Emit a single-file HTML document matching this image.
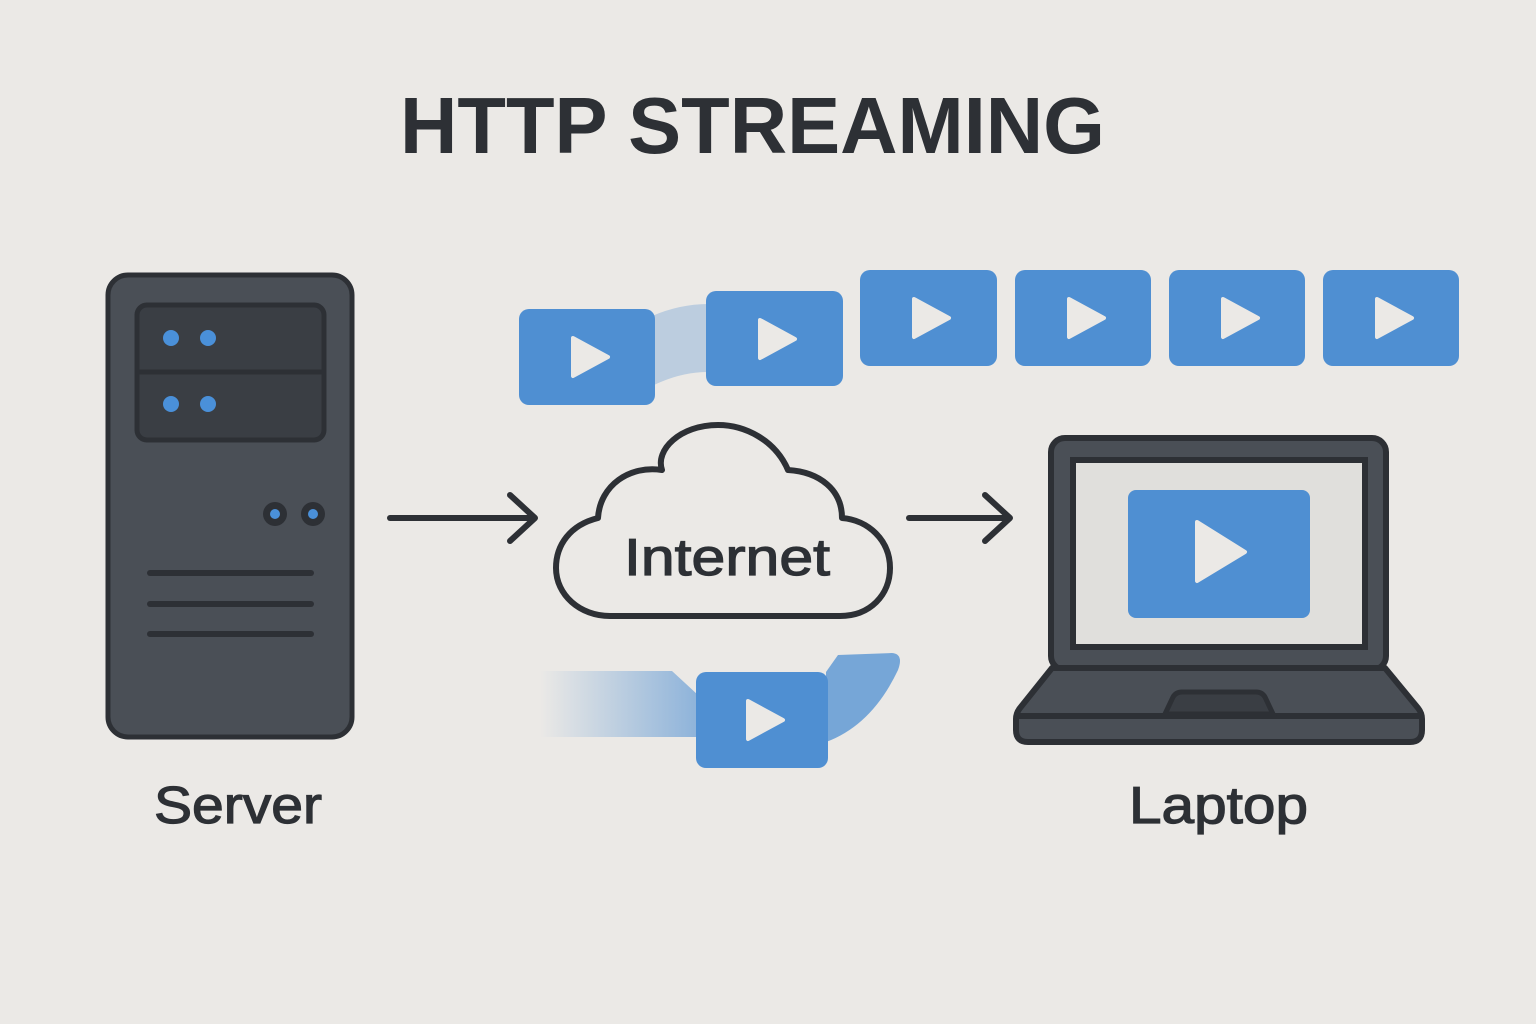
<!DOCTYPE html>
<html><head><meta charset="utf-8"><style>
html,body{margin:0;padding:0;background:#ebe9e6;}
svg{display:block;}
text{font-family:"Liberation Sans",sans-serif;fill:#2d3035;}
.lbl{stroke:#2d3035;stroke-width:1.2;}
</style></head><body>
<svg width="1536" height="1024" viewBox="0 0 1536 1024" xmlns="http://www.w3.org/2000/svg">
<defs>
<linearGradient id="g1" x1="0" x2="1" y1="0" y2="0">
<stop offset="0" stop-color="#4f8fd2" stop-opacity="0"/>
<stop offset="1" stop-color="#4f8fd2" stop-opacity="0.6"/>
</linearGradient>
<g id="play"><path d="M-16,-19 L19,0 L-16,19 Z" fill="#ebe9e6" stroke="#ebe9e6" stroke-width="4" stroke-linejoin="round"/></g>
</defs>
<rect width="1536" height="1024" fill="#ebe9e6"/>
<text x="400" y="153" font-size="80" font-weight="bold" textLength="705" lengthAdjust="spacingAndGlyphs">HTTP STREAMING</text>

<!-- server -->
<rect x="108" y="275" width="244" height="462" rx="20" fill="#4a4f56" stroke="#2d3035" stroke-width="5"/>
<rect x="137" y="305" width="187" height="135" rx="10" fill="#3a3e44" stroke="#2d3035" stroke-width="5"/>
<line x1="137" y1="372" x2="324" y2="372" stroke="#2d3035" stroke-width="5"/>
<g fill="#4a90d9"><circle cx="171" cy="338" r="8"/><circle cx="208" cy="338" r="8"/><circle cx="171" cy="404" r="8"/><circle cx="208" cy="404" r="8"/></g>
<circle cx="275" cy="514" r="12" fill="#2d3035"/><circle cx="275" cy="514" r="5" fill="#4a90d9"/>
<circle cx="313" cy="514" r="12" fill="#2d3035"/><circle cx="313" cy="514" r="5" fill="#4a90d9"/>
<g stroke="#2d3035" stroke-width="6" stroke-linecap="round"><line x1="150" y1="573" x2="311" y2="573"/><line x1="150" y1="604" x2="311" y2="604"/><line x1="150" y1="634" x2="311" y2="634"/></g>
<text class="lbl" x="154" y="823" font-size="52" textLength="168" lengthAdjust="spacingAndGlyphs">Server</text>

<!-- arrows -->
<g stroke="#2d3035" stroke-width="6" stroke-linecap="round" stroke-linejoin="round" fill="none">
<line x1="390" y1="518" x2="533" y2="518"/><polyline points="510,495 535,518 510,541"/>
<line x1="909" y1="518" x2="1008" y2="518"/><polyline points="985,495 1010,518 985,541"/>
</g>

<!-- cloud -->
<path d="M610,616 L840,616 C870,616 890,595 890,568 C890,540 868,520 842,518 C842,490 820,472 788,470 C775,440 745,425 718,425 C680,425 655,450 662,470 C630,465 600,485 598,518 C570,525 556,545 556,568 C556,595 580,616 610,616 Z" fill="#ebe9e6" stroke="#2d3035" stroke-width="6" stroke-linejoin="round"/>
<text class="lbl" x="624" y="575" font-size="52" textLength="206" lengthAdjust="spacingAndGlyphs">Internet</text>

<!-- connectors -->
<path d="M652,316 Q680,304 708,304 L708,372 Q680,372 652,386 Z" fill="#4f8fd2" opacity="0.3"/>
<path d="M540,671 L672,671 L698,695 L698,737 L540,737 Z" fill="url(#g1)"/>
<path d="M826,672 L838,655 L892,653 Q904,654 898,670 Q872,725 826,742 Z" fill="#4f8fd2" opacity="0.75"/>

<!-- tiles -->
<g fill="#4f8fd2">
<rect x="519" y="309" width="136" height="96" rx="10"/>
<rect x="706" y="291" width="137" height="95" rx="10"/>
<rect x="860" y="270" width="137" height="96" rx="10"/>
<rect x="1015" y="270" width="136" height="96" rx="10"/>
<rect x="1169" y="270" width="136" height="96" rx="10"/>
<rect x="1323" y="270" width="136" height="96" rx="10"/>
<rect x="696" y="672" width="132" height="96" rx="10"/>
</g>
<use href="#play" x="589" y="357"/>
<use href="#play" x="776" y="339"/>
<use href="#play" x="930" y="318"/>
<use href="#play" x="1085" y="318"/>
<use href="#play" x="1239" y="318"/>
<use href="#play" x="1393" y="318"/>
<use href="#play" x="764" y="720"/>

<!-- laptop -->
<rect x="1051" y="438" width="335" height="232" rx="14" fill="#4a4f56" stroke="#2d3035" stroke-width="6"/>
<rect x="1073" y="460" width="292" height="187" fill="#e0dfdc" stroke="#2d3035" stroke-width="6"/>
<rect x="1128" y="490" width="182" height="128" rx="8" fill="#4f8fd2"/>
<path d="M1197,522 L1245,552 L1197,581 Z" fill="#ebe9e6" stroke="#ebe9e6" stroke-width="4" stroke-linejoin="round"/>
<path d="M1052,668 L1385,668 L1418,708 Q1422,713 1422,719 L1422,730 Q1422,742 1410,742 L1028,742 Q1016,742 1016,730 L1016,719 Q1016,713 1020,708 Z" fill="#4a4f56" stroke="#2d3035" stroke-width="6" stroke-linejoin="round"/>
<line x1="1018" y1="716" x2="1420" y2="716" stroke="#2d3035" stroke-width="6"/>
<path d="M1165,714 L1173,697 Q1176,692 1182,692 L1256,692 Q1262,692 1265,697 L1273,714 Z" fill="#3a3e44" stroke="#2d3035" stroke-width="5"/>
<text class="lbl" x="1129" y="823" font-size="52" textLength="179" lengthAdjust="spacingAndGlyphs">Laptop</text>
</svg>
</body></html>
